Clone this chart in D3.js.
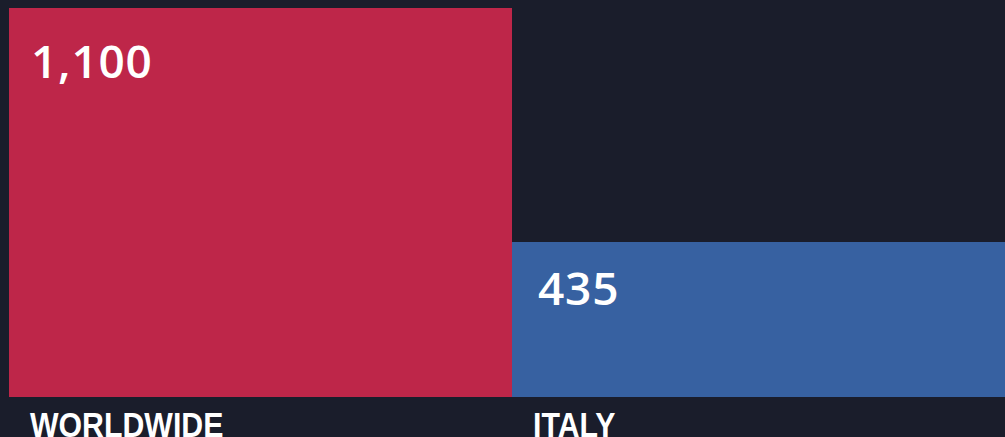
<!DOCTYPE html>
<html><head><meta charset="utf-8">
<script src="https://cdn.jsdelivr.net/npm/d3@7"></script>
<style>html,body{margin:0;padding:0;background:#1a1d2b;overflow:hidden}</style>
</head><body>
<svg id="c" width="1005" height="437"></svg>
<script>
const categories = ["WORLDWIDE", "ITALY"];
const values = [1100, 435];
const valueLabels = ["1,100", "435"];
const colors = ["#be2649", "#3761a1"];

const svg = d3.select("#c");
svg.append("rect").attr("width",1005).attr("height",437).attr("fill","#1a1d2b");
const x = d3.scaleBand().domain(categories).range([9, 1015]).paddingInner(0).paddingOuter(0);
const y = d3.scaleLinear().domain([0, 1100]).range([397, 8]);

const g = svg.selectAll("g.bar").data(categories).join("g").attr("class","bar");
g.append("rect")
  .attr("x", d => x(d))
  .attr("y", (d,i) => Math.floor(y(values[i])) - (i === 0 ? 0 : 1))
  .attr("width", x.bandwidth())
  .attr("height", (d,i) => y(0) - Math.floor(y(values[i])) + (i === 0 ? 0 : 1))
  .attr("fill", (d,i) => colors[i]);
g.append("text")
  .attr("x", (d,i) => x(d) + (i === 0 ? 22 : 26))
  .attr("y", (d,i) => y(values[i]) + (i === 0 ? 70 : 62))
  .attr("fill", "#fff")
  .attr("font-family", "'Open Sans', sans-serif")
  .attr("font-weight", 600)
  .attr("font-size", 46)
  .attr("letter-spacing", 0.8)
  .text((d,i) => valueLabels[i]);
g.append("text")
  .attr("transform", d => `translate(${x(d) + 21},437) scale(0.865,1)`)
  .attr("fill", "#fff")
  .attr("font-family", "'Liberation Sans', Arial, sans-serif")
  .attr("font-weight", 700)
  .attr("font-size", 35)
  .text(d => d);
</script>
</body></html>
